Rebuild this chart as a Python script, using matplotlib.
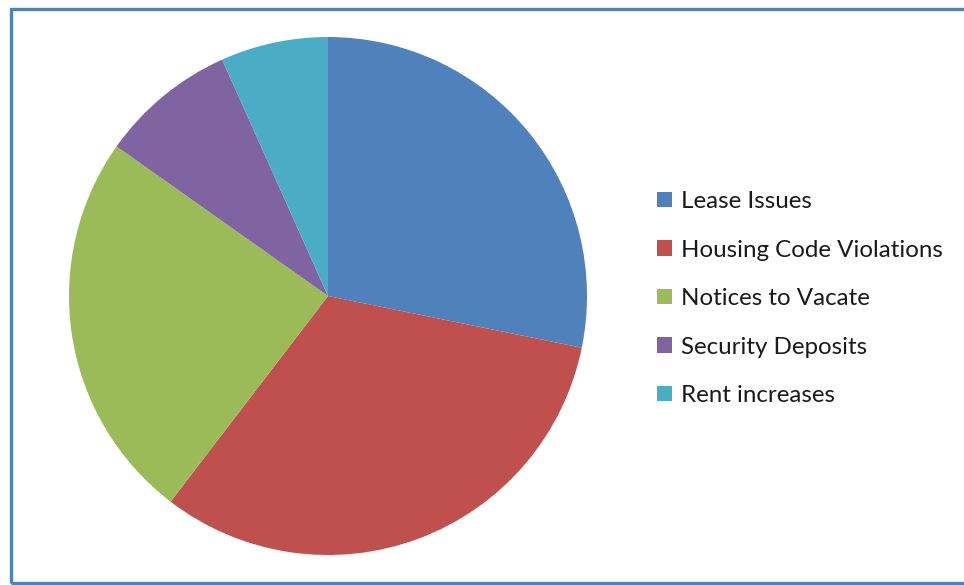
import matplotlib
matplotlib.use("Agg")
import matplotlib.pyplot as plt
from matplotlib.patches import Rectangle

categories = ["Lease Issues", "Housing Code Violations", "Notices to Vacate",
              "Security Deposits", "Rent increases"]
values = [28.2, 32.2, 24.4, 8.5, 6.7]
colors = ["#4F81BD", "#C0504D", "#9BBB59", "#8064A2", "#4BACC6"]

W, H = 964, 585
fig = plt.figure(figsize=(W / 100, H / 100), dpi=100)
fig.patch.set_facecolor("white")

cx, cy, r = 328, 296, 259
ax = fig.add_axes([(cx - r) / W, (H - cy - r) / H, 2 * r / W, 2 * r / H])
wedges, _ = ax.pie(values, colors=colors, startangle=90, counterclock=False,
                   radius=1.0, wedgeprops=dict(linewidth=0))
ax.set_xlim(-1, 1)
ax.set_ylim(-1, 1)
ax.set_aspect("equal")
ax.axis("off")

leg = fig.legend(wedges, categories, loc="upper left",
                 bbox_to_anchor=(657 / W, 1 - 191 / H),
                 frameon=False, prop=dict(family="Lato", size=17.4),
                 handlelength=0.6, handleheight=0.6, handletextpad=0.4,
                 labelspacing=1.14, borderaxespad=0, borderpad=0)
for t in leg.get_texts():
    t.set_color("#1a1a1a")

border = Rectangle((11 / W, 2 / H), 1.2, 1 - 9 / H - 2 / H,
                   transform=fig.transFigure, fill=False,
                   edgecolor="#4F81BD", linewidth=2.4)
fig.patches.append(border)

fig.savefig("out.png", dpi=100)
